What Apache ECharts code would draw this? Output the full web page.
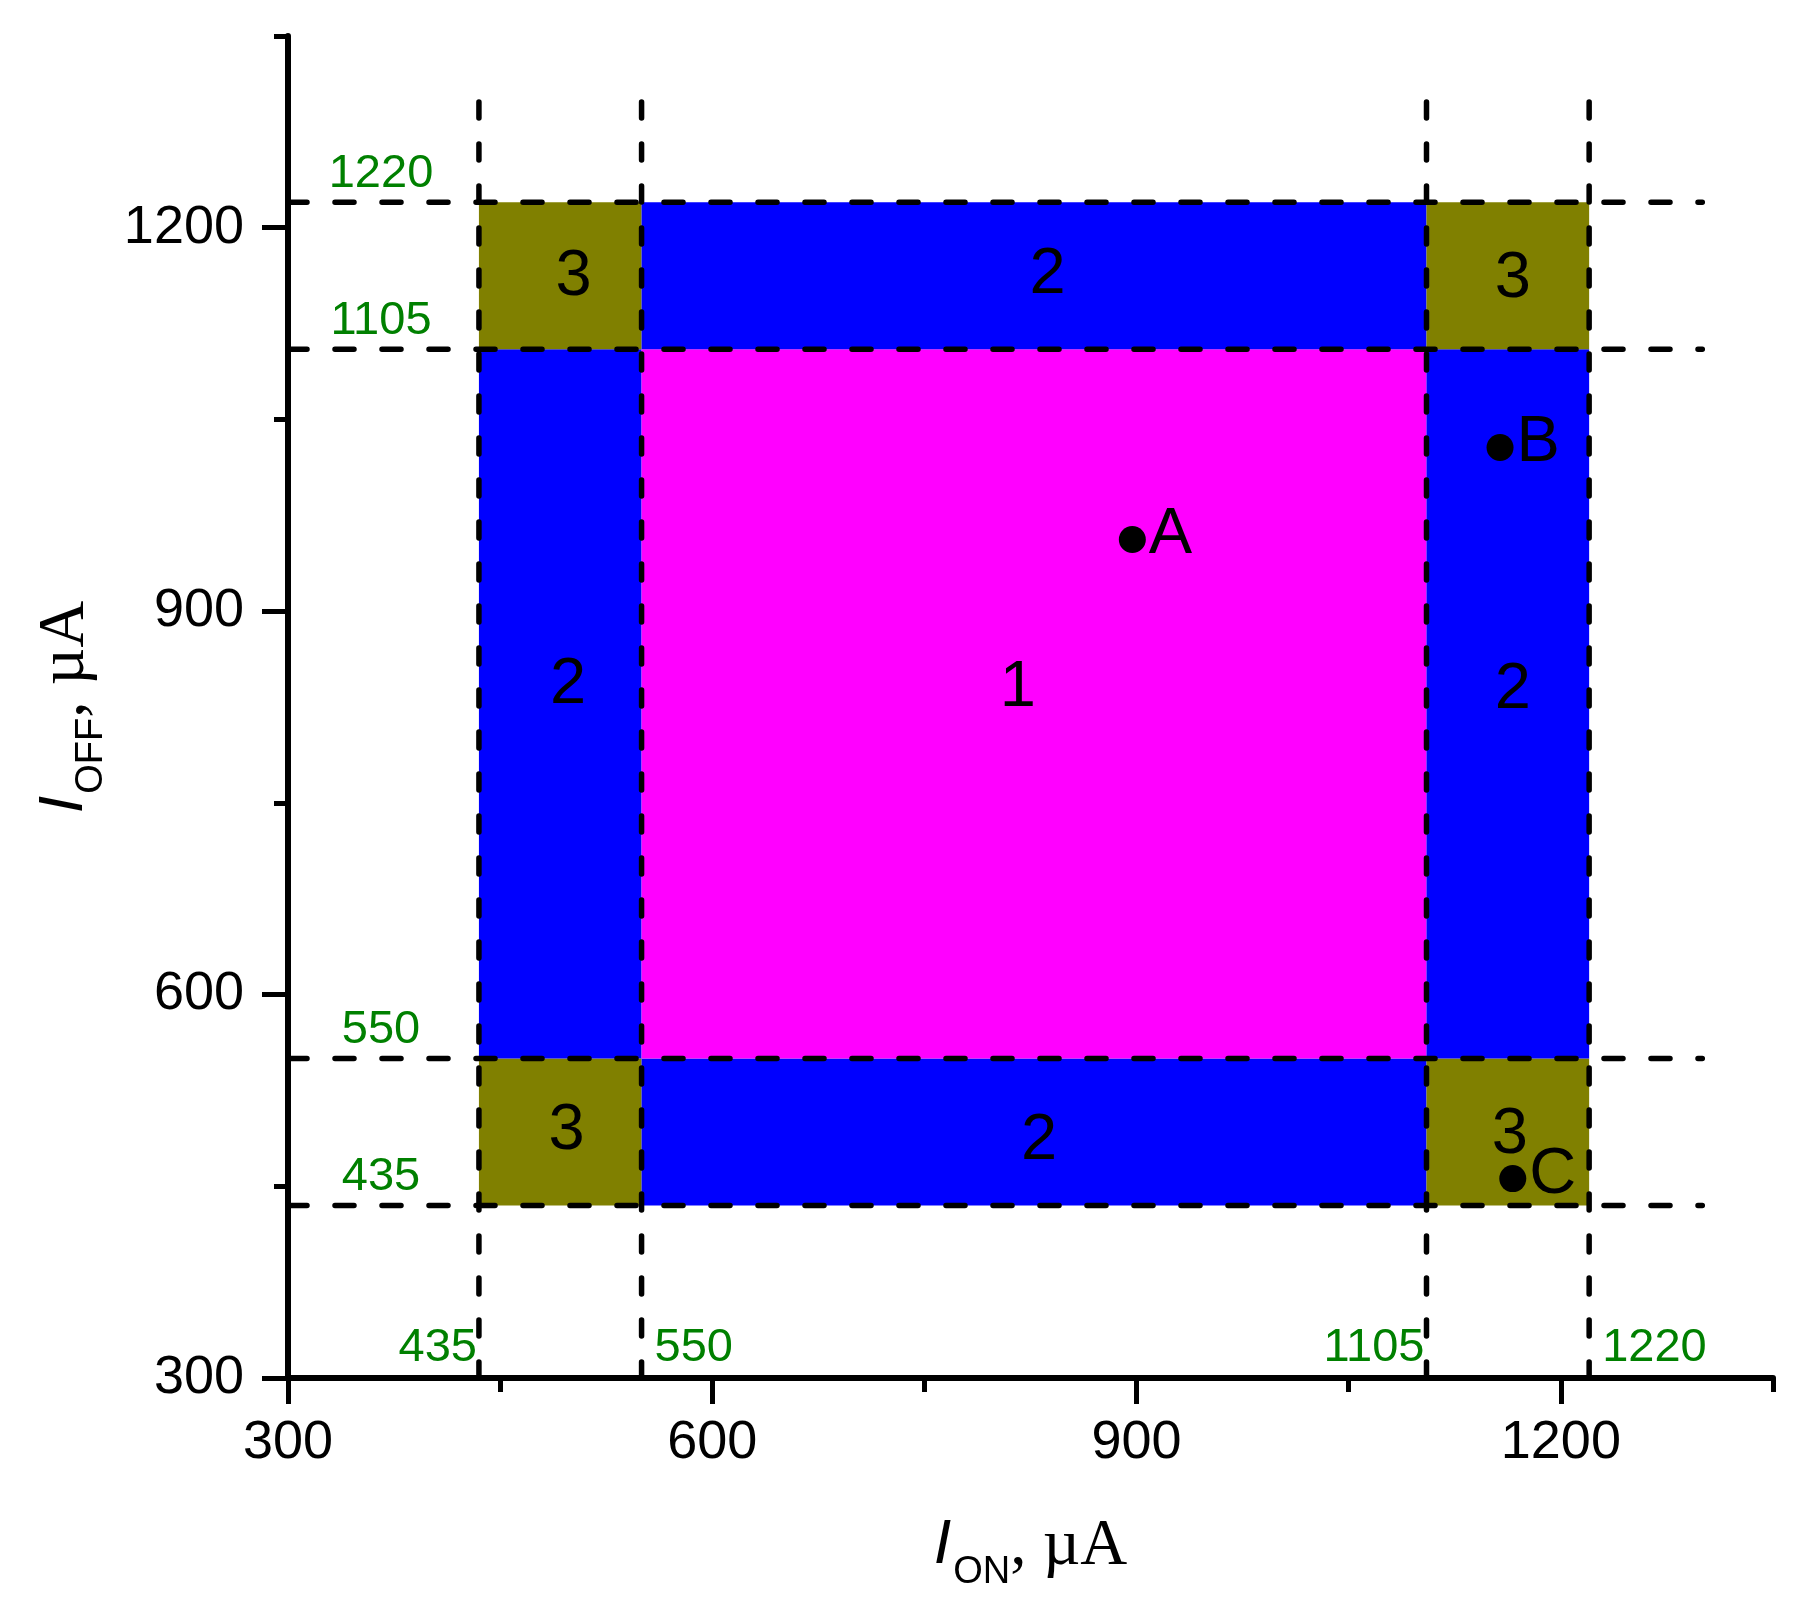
<!DOCTYPE html>
<html>
<head>
<meta charset="utf-8">
<script src="https://cdn.jsdelivr.net/npm/echarts@6/dist/echarts.min.js"></script>
<style>
  html, body { margin: 0; padding: 0; background: #fff; }
  #chart { width: 1808px; height: 1612px; }
</style>
</head>
<body>
<div id="chart"></div>
<script>
// threshold values (µA) for I_ON and I_OFF
const xCuts = [435, 550, 1105, 1220];
const yCuts = [435, 550, 1105, 1220];
// dashed guides run from the axis to this value
const guideSpan = [300, 1300];

const majorTicks = [300, 600, 900, 1200];
const minorTicks = [450, 750, 1050, 1350];

// region number labels: [I_ON, I_OFF, text]
const regionLabels = [
  [502, 1161, "3"], [837, 1163, "2"], [1166, 1160, "3"],
  [498, 842, "2"], [816, 840, "1"], [1166, 838, "2"],
  [497, 493, "3"], [831, 485, "2"], [1164, 490, "3"],
];

// measured points
const pointNames = ["A", "B", "C"];
const pointOn = [897, 1157, 1166];
const pointOff = [956, 1028, 456];

const regionColors = { 1: "#ff00ff", 2: "#0000ff", 3: "#808000" };
const green = "#008000";

// 3x3 cells between the cut lines; kind = 1 centre, 2 edges, 3 corners
const cells = [];
for (let i = 0; i < 3; i++) {
  for (let j = 0; j < 3; j++) {
    const kind = 1 + (i !== 1 ? 1 : 0) + (j !== 1 ? 1 : 0);
    cells.push([xCuts[i], xCuts[i + 1], yCuts[j], yCuts[j + 1], kind]);
  }
}

const chart = echarts.init(document.getElementById("chart"), null, { renderer: "canvas" });

const sans = "Liberation Sans";
const serif = "Liberation Serif";

function axisName(sub) {
  return {
    name: "{i|I}{s|" + sub + "}{u|, µA}",
    nameLocation: "middle",
    nameTextStyle: {
      rich: {
        i: { fontFamily: sans, fontStyle: "italic", fontSize: 63, lineHeight: 64, verticalAlign: "top", color: "#000" },
        s: { fontFamily: sans, fontSize: 38, lineHeight: 40, padding: [40, 0, 0, 2], verticalAlign: "top", color: "#000" },
        u: { fontFamily: serif, fontSize: 65, lineHeight: 64, verticalAlign: "top", color: "#000" },
      },
    },
  };
}

const axisLineStyle = { color: "#000", width: 6 };
const tickStyle = { color: "#000", width: 5 };

function majorAxis(sub, gap, margin) {
  return Object.assign({
    type: "value",
    min: 300,
    max: 1350,
    interval: 150,
    splitLine: { show: false },
    axisLine: { show: true, onZero: false, lineStyle: axisLineStyle },
    axisTick: { show: true, customValues: majorTicks, length: 26, lineStyle: tickStyle },
    axisLabel: {
      customValues: majorTicks,
      formatter: (v) => String(v),
      fontSize: 54,
      fontFamily: sans,
      color: "#000",
      margin: margin,
    },
    nameGap: gap,
  }, axisName(sub));
}

function minorAxis() {
  return {
    type: "value",
    min: 300,
    max: 1350,
    interval: 150,
    splitLine: { show: false },
    axisLine: { show: false },
    axisTick: { show: true, customValues: minorTicks, length: 14, lineStyle: tickStyle },
    axisLabel: { show: false },
  };
}

const yAx = majorAxis("OFF", 191, 44);
yAx.nameRotate = 90;

const dashStyle = { color: "#000", width: 5.5, cap: "round" };

const option = {
  animation: false,
  backgroundColor: "#fff",
  grid: { left: 288, right: 35, top: 36, bottom: 234, containLabel: false },
  xAxis: [majorAxis("ON", 136, 38), Object.assign(minorAxis(), { position: "bottom" })],
  yAxis: [yAx, Object.assign(minorAxis(), { position: "left" })],
  series: [
    {
      type: "custom",
      z: 1,
      silent: true,
      data: cells,
      encode: { x: [0, 1], y: [2, 3] },
      renderItem(params, api) {
        const p0 = api.coord([api.value(0), api.value(2)]);
        const p1 = api.coord([api.value(1), api.value(3)]);
        return {
          type: "rect",
          shape: { x: p0[0], y: p1[1], width: p1[0] - p0[0], height: p0[1] - p1[1] },
          style: { fill: regionColors[api.value(4)] },
        };
      },
    },
    // vertical dashed guides
    ...xCuts.map((c) => ({
      type: "line",
      z: 3,
      silent: true,
      symbol: "none",
      data: [[c, guideSpan[0]], [c, guideSpan[1]]],
      lineStyle: Object.assign({ type: [16, 26] }, dashStyle),
    })),
    // horizontal dashed guides
    ...yCuts.map((c) => ({
      type: "line",
      z: 3,
      silent: true,
      symbol: "none",
      data: [[guideSpan[0], c], [guideSpan[1], c]],
      lineStyle: Object.assign({ type: [19, 28] }, dashStyle),
    })),
    // green threshold labels along the x axis
    {
      type: "scatter",
      z: 4,
      silent: true,
      symbolSize: 0,
      itemStyle: { opacity: 1 },
      data: xCuts.map((c, i) => ({
        value: [c, 300],
        label: {
          position: [i % 2 === 0 ? -2 : 13, -6],
          align: i % 2 === 0 ? "right" : "left",
        },
      })),
      label: {
        show: true,
        formatter: (p) => String(p.value[0]),
        verticalAlign: "bottom",
        fontSize: 47,
        fontFamily: sans,
        color: green,
      },
    },
    // green threshold labels along the y axis
    {
      type: "scatter",
      z: 4,
      silent: true,
      symbolSize: 0,
      itemStyle: { opacity: 1 },
      data: yCuts.map((c) => [300, c]),
      label: {
        show: true,
        formatter: (p) => String(p.value[1]),
        position: [93, -5],
        align: "center",
        verticalAlign: "bottom",
        fontSize: 47,
        fontFamily: sans,
        color: green,
      },
    },
    // region numbers
    {
      type: "scatter",
      z: 4,
      silent: true,
      symbolSize: 0,
      itemStyle: { opacity: 1 },
      data: regionLabels,
      label: {
        show: true,
        position: "inside",
        formatter: (p) => p.value[2],
        fontSize: 65,
        fontFamily: sans,
        color: "#000",
      },
    },
    // points A, B, C
    {
      type: "scatter",
      z: 5,
      silent: true,
      symbol: "circle",
      symbolSize: 27,
      itemStyle: { color: "#000", opacity: 1 },
      data: pointNames.map((n, i) => ({ name: n, value: [pointOn[i], pointOff[i]] })),
      label: {
        show: true,
        position: "right",
        distance: 3,
        offset: [0, -4],
        formatter: "{b}",
        fontSize: 65,
        fontFamily: sans,
        color: "#000",
      },
    },
  ],
};

chart.setOption(option);
</script>
</body>
</html>
